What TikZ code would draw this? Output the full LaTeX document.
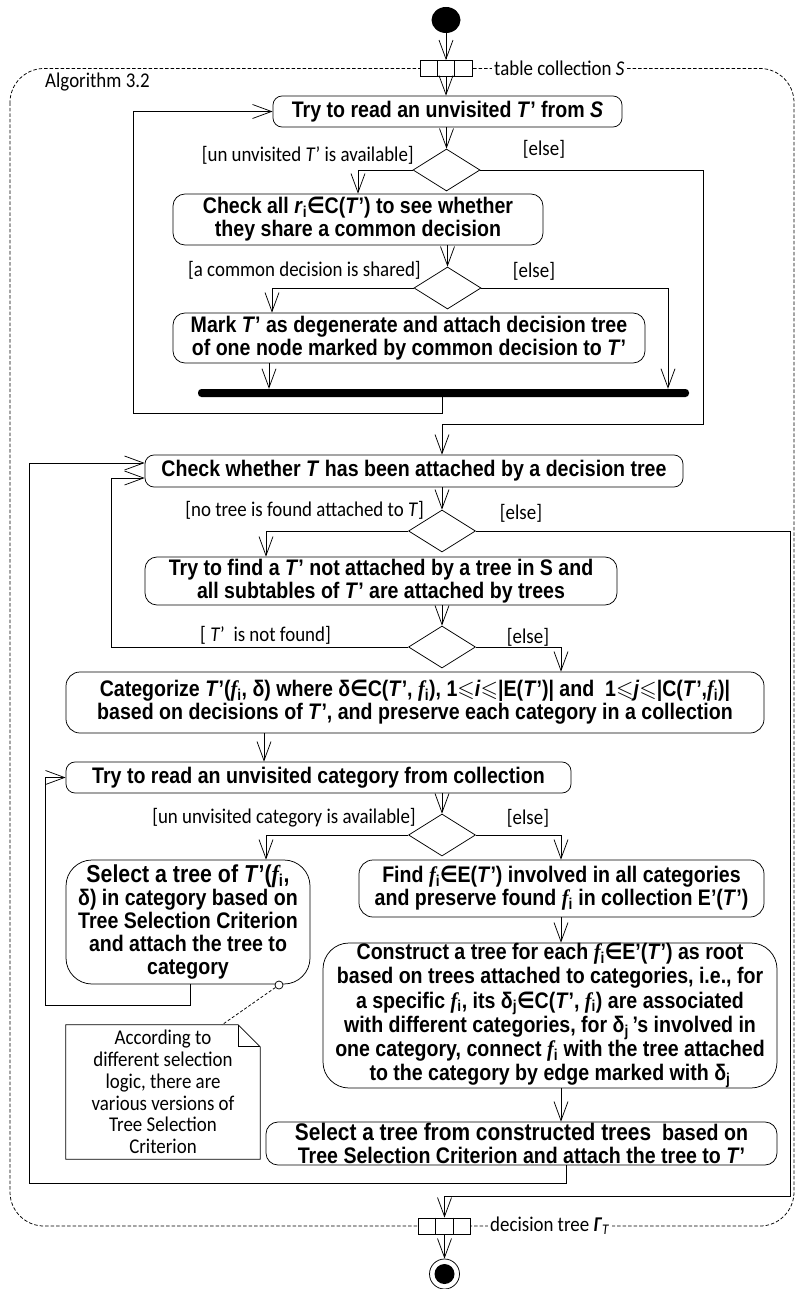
\RequirePackage{fix-cm}
\documentclass[tikz,border=0pt]{standalone}
\usepackage{amsmath,amssymb}
\usepackage{fontspec}
\usetikzlibrary{arrows.meta,shapes.geometric}
\setmainfont{Liberation Sans}
\newfontfamily\actfont{Liberation Sans}[FakeStretch=0.87]
\newfontfamily\labfont{Carlito}[FakeStretch=0.9]
\newfontfamily\ffont{Liberation Serif}[FakeStretch=0.9]
\newfontfamily\symfont{DejaVu Sans}[FakeStretch=0.87]

% inline notation used in the action texts
\newcommand\Tq{\textit{T}’}
\newcommand\fsub{{\ffont\bfseries\itshape f}\textsubscript{i}}
\newcommand\inn{{\symfont\bfseries ∈}}
\newcommand\leqs{\ensuremath{\leqslant}}
\newcommand\dsub[1]{δ\textsubscript{#1}}

\tikzset{
  x=1pt, y=-1pt,
  ln/.style={line width=0.75pt},
  arr/.style={ln, -{Straight Barb[length=19pt,width=14pt]}},
  act/.style={draw, ln, rounded corners=9pt, inner sep=0pt, align=center,
    font=\actfont\bfseries\fontsize{22.5}{23.2}\selectfont},
  bigact/.style={act, rounded corners=26pt},
  decision/.style={draw, ln, diamond, inner sep=0pt, minimum width=67pt, minimum height=42pt},
  guard/.style={font=\labfont\fontsize{21}{21.7}\selectfont, inner sep=0pt},
  pinbox/.style={draw, ln, fill=white, minimum width=52pt, minimum height=16pt, inner sep=0pt},
}

\begin{document}
\begin{tikzpicture}
\useasboundingbox (0,0) rectangle (795,1289);

% activity frame
\draw[ln, dash pattern=on 3.5pt off 2pt, rounded corners=34pt] (10,68.5) rectangle (794,1226);
\node[guard, anchor=west] (alg) at (45,82) {Algorithm 3.2};

% initial node and input pin
\node[ellipse, fill, minimum width=29pt, minimum height=26pt, inner sep=0pt] (start) at (446,20) {};
\node[pinbox] (pin1) at (446,68.5) {};
\draw[ln] (pin1.north) ++(-8.67,0) -- ++(0,16);
\draw[ln] (pin1.north) ++(8.67,0) -- ++(0,16);
\node[guard, anchor=west, fill=white, inner xsep=2pt] (lblS) at (492,68.5) {table collection \textit{S}};

% output pin and final node
\node[pinbox] (pin2) at (444.5,1226) {};
\draw[ln] (pin2.north) ++(-8.67,0) -- ++(0,16);
\draw[ln] (pin2.north) ++(8.67,0) -- ++(0,16);
\node[guard, anchor=west, fill=white, inner xsep=2pt] (lblG) at (488,1226) {decision tree \textbf{\textit{Γ}}\textsubscript{\textit{T}}};
\node[circle, draw, ln, fill=white, minimum size=30pt, inner sep=0pt] (final) at (444.5,1274) {};
\fill (final.center) circle [radius=10];

% actions
\node[act, minimum width=349pt, minimum height=31pt] (b1) at (447.5,111.5)
  {Try to read an unvisited \Tq{} from \textit{S}};
\node[act, rounded corners=12pt, minimum width=370pt, minimum height=51pt] (b2) at (358,219.5)
  {Check all \textit{r}\textsubscript{i}\inn C(\Tq) to see whether\\they share a common decision};
\node[act, rounded corners=12pt, minimum width=472pt, minimum height=50pt] (b3) at (409,338)
  {Mark \Tq{} as degenerate and attach decision tree\\of one node marked by common decision to \Tq};
\node[fill, rounded corners=3.5pt, minimum width=491pt, minimum height=8pt, inner sep=0pt] (bar) at (443.5,393) {};

\node[act, minimum width=538pt, minimum height=32pt] (b4) at (414,471)
  {Check whether \textit{T} has been attached by a decision tree};
\node[act, rounded corners=12pt, minimum width=472pt, minimum height=48pt] (b5) at (381,581)
  {Try to find a \Tq{} not attached by a tree in S and\\all subtables of \Tq{} are attached by trees};
\node[act, rounded corners=14pt, minimum width=698pt, minimum height=61pt] (b6) at (415,702.5)
  {Categorize \textit{T}’(\fsub, δ) where δ\inn C(\Tq, \fsub), 1\leqs\textit{i}\leqs|E(\Tq)| and~ 1\leqs\textit{j}\leqs|C(\Tq,\fsub)|\\based on decisions of \Tq, and preserve each category in a collection};
\node[act, minimum width=505pt, minimum height=31pt] (b7) at (318.5,777.5)
  {Try to read an unvisited category from collection};
\node[bigact, minimum width=244pt, minimum height=124pt] (b8) at (188,922)
  {{\fontsize{24.5}{25}\selectfont Select a tree of \textit{T}’(\fsub,}\\δ) in category based on\\Tree Selection Criterion\\and attach the tree to\\category};
\node[act, rounded corners=14pt, minimum width=405pt, minimum height=57pt] (b9) at (561.5,888.5)
  {Find \fsub\inn E(\Tq) involved in all categories\\and preserve found \fsub{} in collection E’(\Tq)};
\node[bigact, minimum width=454pt, minimum height=145pt,
  font=\actfont\bfseries\fontsize{22.5}{24.2}\selectfont] (b10) at (550,1015.5)
  {Construct a tree for each \fsub\inn E’(\Tq) as root\\based on trees attached to categories, i.e., for\\a specific \fsub, its \dsub{j}\inn C(\Tq, \fsub) are associated\\with different categories, for \dsub{j}\,’s involved in\\one category, connect \fsub{} with the tree attached\\to the category by edge marked with \dsub{j}};
\node[act, rounded corners=12pt, minimum width=511pt, minimum height=43pt] (b11) at (521.5,1143.5)
  {{\fontsize{24}{25}\selectfont Select a tree from constructed trees}~ based on\\Tree Selection Criterion and attach the tree to \Tq};

% decisions
\node[decision] (d1) at (446.5,170) {};
\node[decision] (d2) at (447.5,288) {};
\node[decision] (d3) at (442,531) {};
\node[decision] (d4) at (442,647) {};
\node[decision] (d5) at (442,835) {};

% guards
\node[guard, anchor=east] (g1) at (414,155) {[un unvisited \textit{T}’ is available]};
\node[guard] (e1) at (544,149) {[else]};
\node[guard, anchor=east] (g2) at (421,270) {[a common decision is shared]};
\node[guard] (e2) at (534,271) {[else]};
\node[guard, anchor=east] (g3) at (424,510) {[no tree is found attached to \textit{T}]};
\node[guard] (e3) at (521,513) {[else]};
\node[guard, anchor=west] (g4) at (200,635) {[ \textit{T}’\ \ is not found]};
\node[guard] (e4) at (528,637) {[else]};
\node[guard, anchor=east] (g5) at (416,818) {[un unvisited category is available]};
\node[guard] (e5) at (528,818) {[else]};

% note attached to the tree selection action
\node[circle, draw, ln, fill=white, minimum size=8pt, inner sep=0pt] (anch) at (279,985) {};
\node[guard, align=center, minimum width=194pt, minimum height=134pt] (note) at (163,1092)
  {According to\\different selection\\logic, there are\\various versions of\\Tree Selection\\Criterion};
\draw[ln] (note.north west) -- ([xshift=-22pt]note.north east) -- ([yshift=-22pt]note.north east)
  -- (note.south east) -- (note.south west) -- cycle;
\draw[line width=1.3pt] ([xshift=-22pt]note.north east) -- ([xshift=-22pt,yshift=-22pt]note.north east)
  -- ([yshift=-22pt]note.north east);
\draw[ln, dash pattern=on 3pt off 2pt] (anch) -- (222,0 |- note.north);

% junction points of the loops
\coordinate (j1) at (703,424);
\coordinate (j2) at (133,413);
\coordinate (j3) at (790,1196);
\coordinate (j4) at (111,478);
\coordinate (j5) at (45,1005);
\coordinate (j6) at (29,1183);

% flows
\draw[arr] (start.south) -- (pin1.north);
\draw[arr] (pin1.south) -- (pin1.south |- b1.north);
\draw[arr] (b1.south -| d1) -- (d1.north);
\draw[arr] (d1.west) -| (358,0 |- b2.north);
\draw[arr] (d1.east) -| (j1) -| (d3 |- b4.north);
\draw[arr] (b2.south -| d2) -- (d2.north);
\draw[arr] (d2.west) -| (272,0 |- b3.north);
\draw[arr] (d2.east) -| (668,0 |- bar.north);
\draw[arr] (269,0 |- b3.south) -- (269,0 |- bar.north);
\draw[arr] (442,0 |- bar.south) |- (j2) |- (b1.west);

\draw[arr] (b4.south -| d3) -- (d3.north);
\draw[arr] (d3.west) -| (266,0 |- b5.north);
\draw[arr] (d3.east) -| (j3) -| (pin2.north);
\draw[arr] (b5.south -| d4) -- (d4.north);
\draw[arr] (d4.west) -| (j4) -- ([yshift=-7pt]b4.west);
\draw[arr] (d4.east) -| (561,0 |- b6.north);
\draw[arr] (264,0 |- b6.south) -- (264,0 |- b7.north);
\draw[arr] (b7.south -| d5) -- (d5.north);
\draw[arr] (d5.west) -| (266,0 |- b8.north);
\draw[arr] (d5.east) -| (561,0 |- b9.north);
\draw[arr] (561,0 |- b9.south) -- (561,0 |- b10.north);
\draw[arr] (561,0 |- b10.south) -- (561,0 |- b11.north);
\draw[arr] (190,0 |- b8.south) |- (j5) |- (b7.west);
\draw[arr] (566,0 |- b11.south) |- (j6) |- ([yshift=8pt]b4.west);
\draw[arr] (pin2.south) -- (final.north);
\end{tikzpicture}
\end{document}
